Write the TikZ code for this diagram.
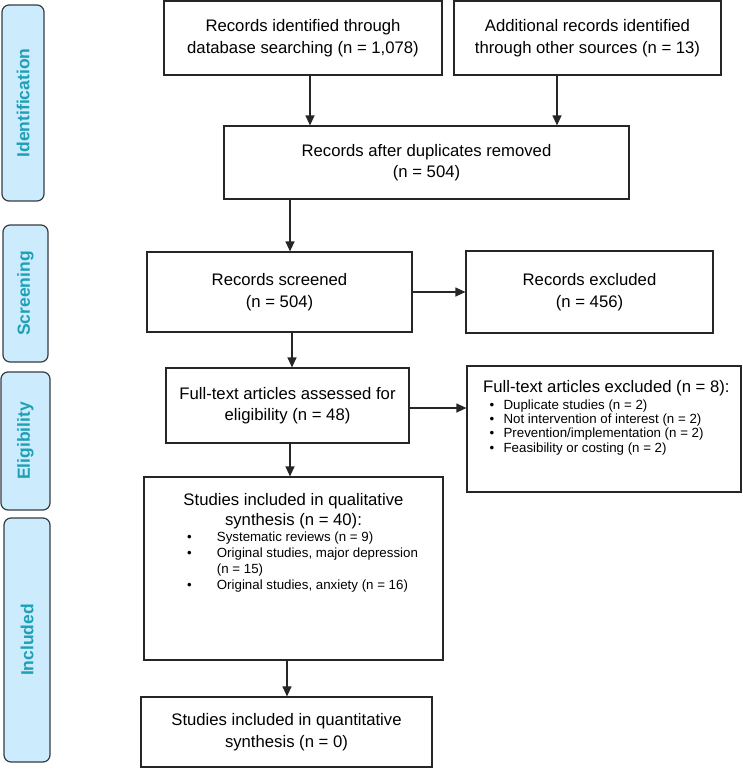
\documentclass[tikz,border=0pt]{standalone}
\usepackage{fontspec}
\setmainfont{Liberation Sans}
\usetikzlibrary{arrows.meta}
\definecolor{stagefill}{RGB}{204,236,253}
\definecolor{stagetext}{RGB}{30,160,182}
\definecolor{stageline}{RGB}{55,60,65}
\begin{document}
\begin{tikzpicture}[x=1pt,y=-1pt,
  box/.style={draw=black!85, line width=1.2pt, inner sep=0pt, align=center, font=\fontsize{16.7}{21.5}\selectfont},
  stage/.style={draw=stageline, fill=stagefill, line width=1.2pt, rounded corners=7pt, rotate=90, inner sep=0pt, text=stagetext, font=\bfseries\fontsize{17.5}{20}\selectfont},
  arr/.style={draw=black!85, line width=1.2pt, -{Triangle[length=10pt,width=9pt]}},
  title/.style={inner sep=0pt, align=center, font=\fontsize{16.7}{20}\selectfont},
  bul/.style={inner sep=0pt, align=left, font=\fontsize{13.3}{15.8}\selectfont}]
\useasboundingbox (0,0) rectangle (743,769);

% stage labels
\node[stage, minimum width=196, minimum height=42] (sid) at (23,103) {Identification};
\node[stage, minimum width=137, minimum height=45] (sscr) at (25.5,293.5) {Screening};
\node[stage, minimum width=138, minimum height=49] (selg) at (25.5,441) {Eligibility};
\node[stage, minimum width=244, minimum height=46] (sinc) at (27,640) {Included};

% boxes
\node[box, minimum width=278, minimum height=74] (b1) at (303,38) {Records identified through\\database searching (n = 1,078)};
\node[box, minimum width=267, minimum height=74] (b2) at (587.5,38) {Additional records identified\\through other sources (n = 13)};
\node[box, minimum width=405, minimum height=73] (b3) at (426.5,162.5) {Records after duplicates removed\\(n = 504)};
\node[box, minimum width=265, minimum height=80] (b4) at (279.5,292) {Records screened\\(n = 504)};
\node[box, minimum width=247, minimum height=82] (b5) at (589.5,292) {Records excluded\\(n = 456)};
\node[box, minimum width=243, minimum height=75] (b6) at (287.5,405.5) {Full-text articles assessed for\\eligibility (n = 48)};
\node[box, minimum width=274, minimum height=126] (b7) at (604,429) {};
\node[box, minimum width=299, minimum height=183] (b8) at (293.5,568.5) {};
\node[box, minimum width=291, minimum height=70] (b9) at (286.5,732) {Studies included in quantitative\\synthesis (n = 0)};

% box 7 contents
\node[title, anchor=base west] (b7t) at (483,392.7) {Full-text articles excluded (n = 8):};
\node[bul, anchor=north west, font=\fontsize{13.3}{14.3}\selectfont] (b7l) at (489.4,399.5) {%
\makebox[14pt][l]{\textbullet}Duplicate studies (n = 2)\\
\makebox[14pt][l]{\textbullet}Not intervention of interest (n = 2)\\
\makebox[14pt][l]{\textbullet}Prevention/implementation (n = 2)\\
\makebox[14pt][l]{\textbullet}Feasibility or costing (n = 2)};

% box 8 contents
\node[title] (b8t) at (293.5,511.5) {Studies included in qualitative\\synthesis (n = 40):};
\node[bul, anchor=north west] (b8l) at (187,532) {%
\makebox[29.7pt][l]{\textbullet}Systematic reviews (n = 9)\\
\makebox[29.7pt][l]{\textbullet}Original studies, major depression\\
\hspace*{29.7pt}(n = 15)\\
\makebox[29.7pt][l]{\textbullet}Original studies, anxiety (n = 16)};

% arrow positions
\coordinate (xa) at (310,0);
\coordinate (xb) at (557,0);
\coordinate (xc) at (290,0);
\coordinate (xd) at (292,0);
\coordinate (xe) at (290,0);
\coordinate (xf) at (287,0);
\coordinate (ya) at (0,408);

\draw[arr] (b1.south -| xa) -- (b3.north -| xa);
\draw[arr] (b2.south -| xb) -- (b3.north -| xb);
\draw[arr] (b3.south -| xc) -- (b4.north -| xc);
\draw[arr] (b4.east) -- (b5.west);
\draw[arr] (b4.south -| xd) -- (b6.north -| xd);
\draw[arr] (b6.east |- ya) -- (b7.west |- ya);
\draw[arr] (b6.south -| xe) -- (b8.north -| xe);
\draw[arr] (b8.south -| xf) -- (b9.north -| xf);
\end{tikzpicture}
\end{document}
